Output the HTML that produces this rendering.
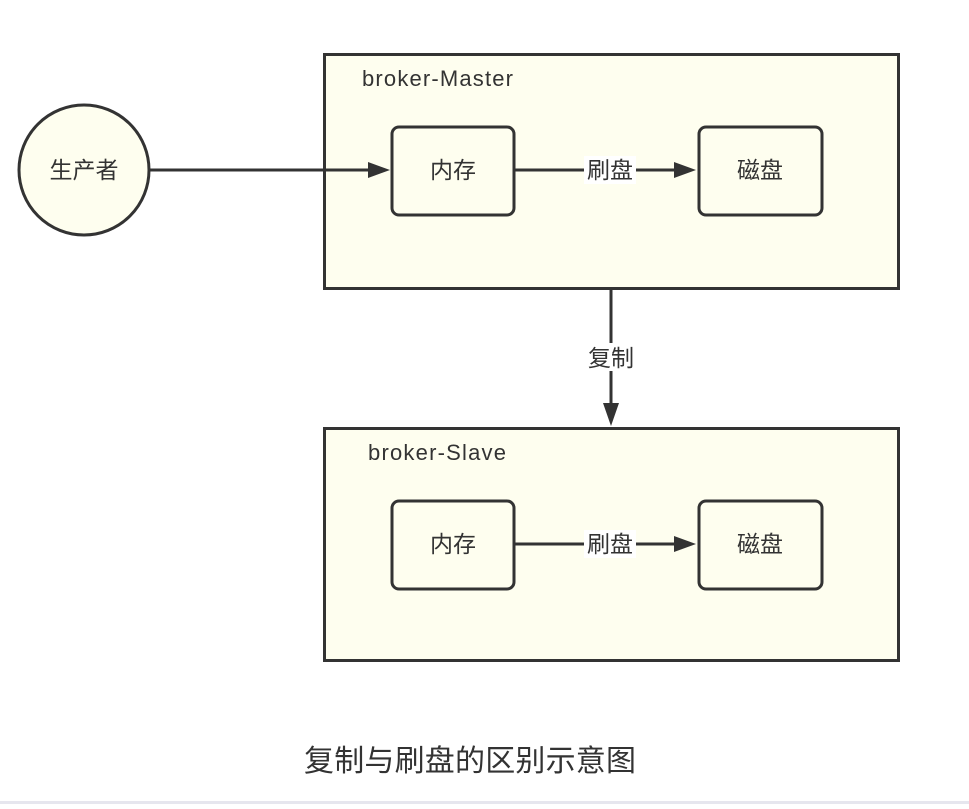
<!DOCTYPE html>
<html><head><meta charset="utf-8"><style>
html,body{margin:0;padding:0;background:#fff;}
svg text{font-family:"Liberation Sans","Noto Sans CJK SC",sans-serif;fill:#333;}
</style></head><body>
<svg width="969" height="804" viewBox="0 0 969 804" xmlns="http://www.w3.org/2000/svg">
<rect x="324.5" y="54.5" width="574" height="234" fill="#fefeef" stroke="#333" stroke-width="3"/>
<rect x="324.5" y="428.5" width="574" height="232" fill="#fefeef" stroke="#333" stroke-width="3"/>
<text x="362" y="86" font-size="22" textLength="151">broker-Master</text>
<text x="368" y="460" font-size="22" textLength="138">broker-Slave</text>
<circle cx="84" cy="170" r="65" fill="#fefeef" stroke="#333" stroke-width="3"/>
<text x="84" y="178" font-size="23" text-anchor="middle">生产者</text>
<g fill="#fefeef" stroke="#333" stroke-width="3">
<rect x="392" y="127" width="122" height="88" rx="7"/>
<rect x="699" y="127" width="123" height="88" rx="7"/>
<rect x="392" y="501" width="122" height="88" rx="7"/>
<rect x="699" y="501" width="123" height="88" rx="7"/>
</g>
<g font-size="23" text-anchor="middle">
<text x="453" y="178">内存</text><text x="760" y="178">磁盘</text>
<text x="453" y="552">内存</text><text x="760" y="552">磁盘</text>
</g>
<g stroke="#333" stroke-width="3" fill="none">
<line x1="150" y1="170" x2="368" y2="170"/>
<line x1="514" y1="170" x2="676" y2="170"/>
<line x1="514" y1="544" x2="676" y2="544"/>
<line x1="611" y1="288" x2="611" y2="404"/>
</g>
<g fill="#333">
<path d="M368,162 L390,170 L368,178 z"/>
<path d="M674,162 L696,170 L674,178 z"/>
<path d="M674,536 L696,544 L674,552 z"/>
<path d="M603,403 L611,426 L619,403 z"/>
</g>
<rect x="584" y="156" width="52" height="28" fill="#fff"/>
<text x="610" y="178" font-size="23" text-anchor="middle">刷盘</text>
<rect x="584" y="530" width="52" height="28" fill="#fff"/>
<text x="610" y="552" font-size="23" text-anchor="middle">刷盘</text>
<rect x="584" y="343" width="54" height="28" fill="#fff"/>
<text x="611" y="366" font-size="23" text-anchor="middle">复制</text>
<text x="304" y="771" font-size="30" textLength="332">复制与刷盘的区别示意图</text>
<rect x="0" y="801" width="969" height="3" fill="#e6e6ee"/>
</svg>
</body></html>
